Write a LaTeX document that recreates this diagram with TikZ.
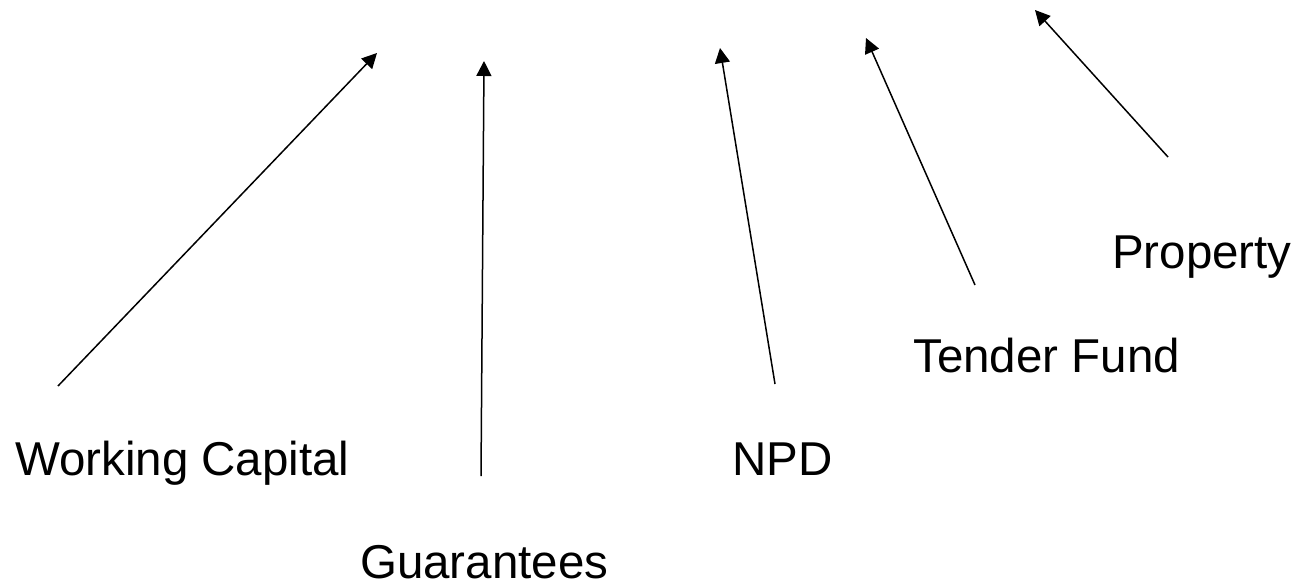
\documentclass[tikz,border=0pt]{standalone}
\usepackage{fontspec}
\setmainfont{Liberation Sans}
\usepackage{tikz}
\usetikzlibrary{positioning,arrows.meta}

\begin{document}
\begin{tikzpicture}[x=1pt,y=-1pt]
    \tikzstyle{itemtext}=[inner sep=0pt, text depth=0pt, anchor=base west, font=\fontsize{47.5}{57}\selectfont]
    \tikzstyle{pointer}=[line width=1.5pt, -{Triangle[length=15pt,width=15pt]}]
    \useasboundingbox (0,0) rectangle (1298,587);

    \node[itemtext] (capital) at (15,475) {Working Capital};
    \node[itemtext] (guarantees) at (360,578) {Guarantees};
    \node[itemtext] (npd) at (732,475) {NPD};
    \node[itemtext] (tender) at (913,372) {Tender Fund};
    \node[itemtext] (property) at (1112,268) {Property};

    \coordinate (capital tail) at (58,386);
    \coordinate (capital tip) at (377,53);
    \coordinate (guarantees tail) at (481,476);
    \coordinate (guarantees tip) at (484,61);
    \coordinate (npd tail) at (775,384);
    \coordinate (npd tip) at (720,48);
    \coordinate (tender tail) at (975,285);
    \coordinate (tender tip) at (866,38);
    \coordinate (property tail) at (1168,157);
    \coordinate (property tip) at (1035,10);

    \draw[pointer] (capital tail) -- (capital tip);
    \draw[pointer] (guarantees tail) -- (guarantees tip);
    \draw[pointer] (npd tail) -- (npd tip);
    \draw[pointer] (tender tail) -- (tender tip);
    \draw[pointer] (property tail) -- (property tip);
\end{tikzpicture}
\end{document}
